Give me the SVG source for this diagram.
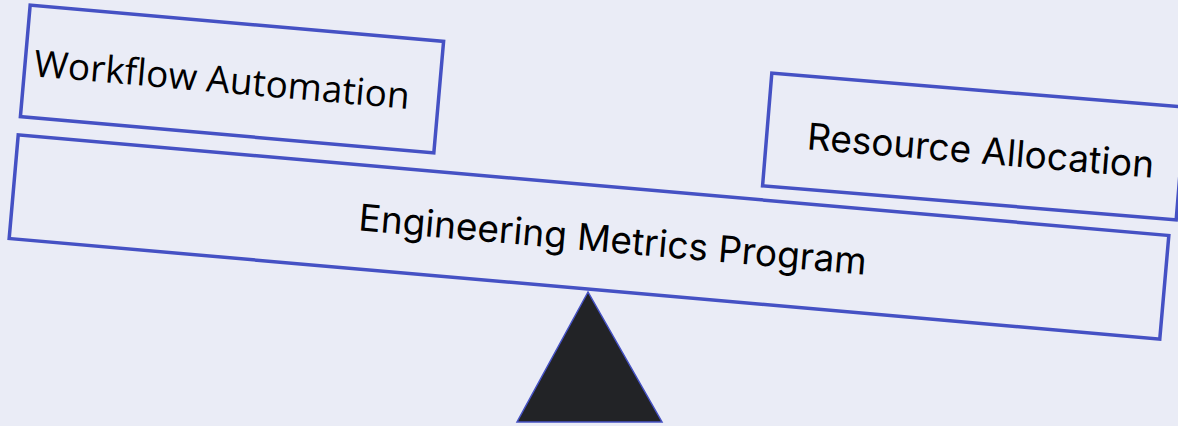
<svg xmlns="http://www.w3.org/2000/svg" width="1178" height="426" viewBox="0 0 1178 426">
<style>
.box{fill:#eaecf6;stroke:#4551c4;stroke-width:3.5}
.lbl{font-family:Inter,"Liberation Sans",sans-serif;font-size:37px;fill:#000;text-anchor:middle;dominant-baseline:central}
.alt{font-family:"Open Sans","Noto Sans",sans-serif;font-size:37px}
</style>
<rect width="1178" height="426" fill="#eaecf6"/>
<g id="fulcrum">
<polygon points="588,292 517,422 662,422" fill="#222326" stroke="#4551c4" stroke-width="1.5"/>
</g>
<g id="beam" transform="translate(589,237) rotate(5)">
<rect class="box" x="-577.5" y="-52" width="1155" height="104"/>
<text class="lbl" x="24" y="0">Engineering Metrics Program</text>
</g>
<g id="left" transform="translate(232,79) rotate(5)">
<rect class="box" x="-207.5" y="-56" width="415" height="112"/>
<text class="lbl alt" x="-10" y="0">Workflow Automation</text>
</g>
<g id="right" transform="translate(974,146.5) rotate(4.7)">
<rect class="box" x="-207.5" y="-56.5" width="415" height="113"/>
<text class="lbl" x="7" y="3">Resource Allocation</text>
</g>
</svg>
